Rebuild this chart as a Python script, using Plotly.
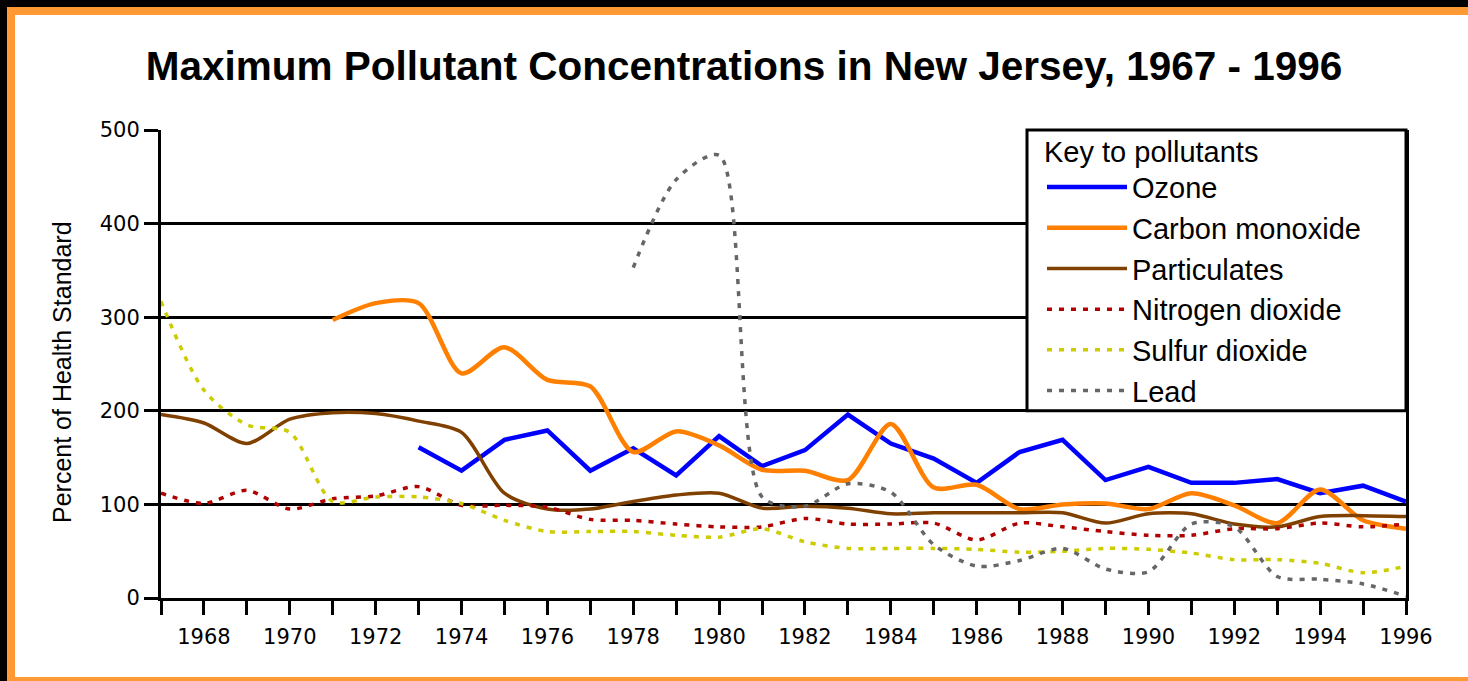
import plotly.graph_objects as go

# ---------------- data ----------------
years_all = list(range(1967, 1997))

ozone_years = list(range(1973, 1997))
ozone = [161, 136, 169, 179, 136, 160, 131, 173, 141, 158, 196, 165, 149, 123,
         156, 169, 126, 140, 123, 123, 127, 112, 120, 103]

co_years = list(range(1971, 1997))
carbon_monoxide = [297, 315, 315, 240, 268, 233, 226, 156, 178, 163, 137, 136, 126,
                   186, 118, 121, 95, 100, 101, 95, 112, 99, 80, 116, 83, 74]

particulates = [196, 187, 165, 191, 198, 197, 189, 177, 112, 95, 95, 103, 110, 112,
                96, 98, 96, 90, 91, 91, 91, 91, 80, 90, 90, 79, 76, 87, 88, 87]

nitrogen_dioxide = [112, 101, 115, 95, 106, 109, 119, 99, 99, 97, 84, 83, 79, 76, 76,
                    85, 79, 79, 80, 62, 80, 76, 71, 67, 67, 74, 74, 80, 76, 79]

sulfur_dioxide = [317, 222, 185, 177, 103, 108, 108, 101, 83, 71, 71, 71, 67, 65, 74,
                  60, 53, 53, 53, 52, 49, 50, 53, 52, 48, 41, 41, 37, 27, 34]

lead_years = list(range(1978, 1997))
lead = [353, 447, 473, 108, 98, 122, 113, 57, 34, 40, 53, 31, 28, 79, 76, 23, 20, 15, 2]

series_names = ["Ozone", "Carbon monoxide", "Particulates",
                "Nitrogen dioxide", "Sulfur dioxide", "Lead"]

x_tick_vals = years_all
x_tick_text = [str(y) if y % 2 == 0 else "" for y in years_all]
y_tick_vals = [0, 100, 200, 300, 400, 500]

# ---------------- figure ----------------
W, H = 1468, 681
L, R, T, B = 161, 1406, 130, 598   # plot area in pixels


def px(xp):
    return (xp - L) / (R - L)


def py(yp):
    return (B - yp) / (B - T)


fig = go.Figure()

dot = "5px,7px"
fig.add_trace(go.Scatter(x=ozone_years, y=ozone, name=series_names[0], mode="lines",
                         line=dict(color="#0000FF", width=4.5)))
fig.add_trace(go.Scatter(x=co_years, y=carbon_monoxide, name=series_names[1], mode="lines",
                         line=dict(color="#FF8000", width=4.5, shape="spline", smoothing=0.8)))
fig.add_trace(go.Scatter(x=years_all, y=particulates, name=series_names[2], mode="lines",
                         line=dict(color="#804000", width=3.5, shape="spline", smoothing=0.8)))
fig.add_trace(go.Scatter(x=years_all, y=nitrogen_dioxide, name=series_names[3], mode="lines",
                         line=dict(color="#B00000", width=3.5, dash=dot, shape="spline", smoothing=0.8)))
fig.add_trace(go.Scatter(x=years_all, y=sulfur_dioxide, name=series_names[4], mode="lines",
                         line=dict(color="#CCCC00", width=3.5, dash=dot, shape="spline", smoothing=0.8)))
fig.add_trace(go.Scatter(x=lead_years, y=lead, name=series_names[5], mode="lines",
                         line=dict(color="#666666", width=3.5, dash=dot, shape="spline", smoothing=0.8)))

shapes = []
# outer frame: black edge and orange band
shapes.append(dict(type="rect", xref="paper", yref="paper", layer="below",
                   x0=px(0), x1=px(W), y0=py(0), y1=py(7), fillcolor="#000000", line_width=0))
shapes.append(dict(type="rect", xref="paper", yref="paper", layer="below",
                   x0=px(0), x1=px(7), y0=py(0), y1=py(H), fillcolor="#000000", line_width=0))
shapes.append(dict(type="rect", xref="paper", yref="paper", layer="below",
                   x0=px(7), x1=px(W), y0=py(7), y1=py(15), fillcolor="#FF9933", line_width=0))
shapes.append(dict(type="rect", xref="paper", yref="paper", layer="below",
                   x0=px(7), x1=px(15), y0=py(7), y1=py(H), fillcolor="#FF9933", line_width=0))
shapes.append(dict(type="rect", xref="paper", yref="paper", layer="below",
                   x0=px(7), x1=px(W), y0=py(677), y1=py(H), fillcolor="#FF9933", line_width=0))
# legend box
shapes.append(dict(type="rect", xref="paper", yref="paper", layer="above",
                   x0=px(1027), x1=1, y0=0.4, y1=1, fillcolor="#FFFFFF",
                   line=dict(color="#000000", width=3)))

fig.update_layout(
    width=W, height=H, autosize=False,
    margin=dict(l=L, r=W - R, t=T, b=H - B, pad=0),
    paper_bgcolor="#FFFFFF", plot_bgcolor="#FFFFFF",
    font=dict(family="Liberation Sans, Arial, sans-serif", color="#000000"),
    title=dict(text="<b>Maximum Pollutant Concentrations in New Jersey, 1967 - 1996</b>",
               font=dict(size=40.5, family="Liberation Sans, Arial, sans-serif", color="#000000"),
               xref="container", yref="container", x=744 / W, y=1 - 66 / H,
               xanchor="center", yanchor="middle"),
    xaxis=dict(range=[1967, 1996], tickmode="array", tickvals=x_tick_vals, ticktext=x_tick_text,
               ticks="outside", ticklen=14, tickwidth=3, tickcolor="#000000",
               showline=True, linecolor="#000000", linewidth=3, showgrid=False, zeroline=False,
               ticklabelstandoff=4,
               tickfont=dict(family="DejaVu Sans", size=21, color="#000000")),
    yaxis=dict(range=[0, 500], tickmode="array", tickvals=y_tick_vals,
               ticks="outside", ticklen=14, tickwidth=3, tickcolor="#000000",
               showline=True, linecolor="#000000", linewidth=3, mirror=True,
               showgrid=True, gridcolor="#000000", gridwidth=3, zeroline=False,
               tickfont=dict(family="DejaVu Sans", size=21, color="#000000")),
    shapes=shapes,
    showlegend=True,
    legend=dict(x=px(1042), y=py(124), xanchor="left", yanchor="top",
                bgcolor="rgba(0,0,0,0)", borderwidth=0,
                font=dict(size=29, family="Liberation Sans, Arial, sans-serif", color="#000000"),
                title=dict(text="Key to pollutants",
                           font=dict(size=29, family="Liberation Sans, Arial, sans-serif")),
                itemwidth=80, traceorder="normal", tracegroupgap=0),
    annotations=[dict(text="Percent of Health Standard", xref="paper", yref="paper",
                      x=px(62), y=py(372), textangle=-90, showarrow=False,
                      xanchor="center", yanchor="middle",
                      font=dict(size=25, family="Liberation Sans, Arial, sans-serif", color="#000000"))],
)

fig.write_html("out.html", config={"displayModeBar": False},
               post_script="document.body.style.margin='0';document.body.style.overflow='hidden';")
